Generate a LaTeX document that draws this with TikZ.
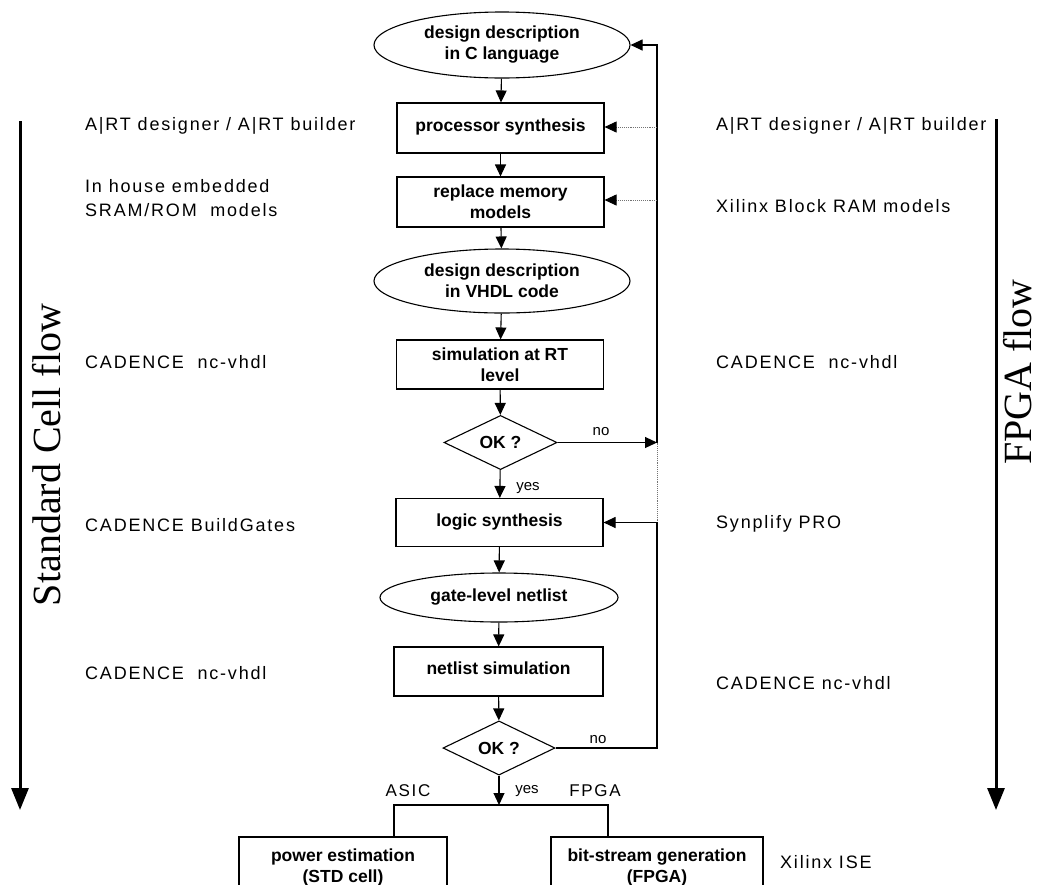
\documentclass[tikz,border=0pt]{standalone}
\usepackage{fontspec}
\setmainfont{Liberation Sans}
\newfontfamily\labfamily[LetterSpace=10]{Liberation Sans}
\newfontfamily\serfamily{Liberation Serif}
\usetikzlibrary{shapes.geometric,arrows.meta}
\newcommand{\boxfont}{\fontsize{17.5}{21}\selectfont\bfseries}
\newcommand{\labfont}{\labfamily\fontsize{18}{24}\selectfont}
\newcommand{\ynfont}{\fontsize{15}{18}\selectfont}
\newcommand{\flowfont}{\serfamily\fontsize{40}{42}\selectfont}
\begin{document}
\begin{tikzpicture}[x=1pt,y=-1pt,
  box/.style={draw, line width=1.1pt, minimum width=207pt, minimum height=50pt, inner sep=0pt, font=\boxfont, align=center},
  ell/.style={draw, ellipse, line width=1.1pt, inner sep=0pt, font=\boxfont, align=center},
  dia/.style={draw, diamond, line width=1.1pt, inner sep=0pt, minimum width=113pt, minimum height=53pt, font=\boxfont},
  lab/.style={anchor=west, inner sep=0pt, font=\labfont, align=left},
  yn/.style={inner sep=0pt, font=\ynfont},
  flow/.style={-{Triangle[length=12pt,width=11pt]}, line width=1.1pt},
  dotflow/.style={densely dotted, line width=0.9pt, draw=black!55, -{Triangle[length=12pt,width=11pt,color=black]}},
  side/.style={line width=3pt, -{Triangle[length=22pt,width=17pt]}},
  flowlab/.style={inner sep=0pt, font=\flowfont, rotate=90, anchor=base}
]
\useasboundingbox (0,0) rectangle (1038,884);
\clip (0,0) rectangle (1038,884);

% main flow
\node[ell, minimum width=256pt, minimum height=66pt] (cdesc) at (502,45) {design description\\in C language};
\node[box] (ps) at (500.5,128) {\raisebox{5pt}{processor synthesis}};
\node[box] (rm) at (500.5,202) {replace memory\\models};
\node[ell, minimum width=256pt, minimum height=64pt] (vhdl) at (502,281) {design description\\in VHDL code};
\node[box, minimum height=49pt] (sim) at (500,364.5) {simulation at RT\\level};
\node[dia] (ok1) at (500.5,442.5) {OK ?};
\node[box, minimum height=48pt] (ls) at (499.5,522.5) {\raisebox{5pt}{logic synthesis}};
\node[ell, minimum width=238pt, minimum height=49pt] (gl) at (499,597.5) {gate-level netlist};
\node[box, minimum width=209pt, minimum height=49pt] (ns) at (498.5,671.5) {\raisebox{6pt}{netlist simulation}};
\node[dia, minimum width=112pt, minimum height=54pt] (ok2) at (499,748) {OK ?};
\node[box, minimum width=208pt, minimum height=60pt] (pe) at (343,867) {power estimation\\(STD cell)};
\node[box, minimum width=212pt, minimum height=60pt] (bs) at (657,867) {bit-stream generation\\(FPGA)};

\draw[flow] (cdesc) -- (ps);
\draw[flow] (ps) -- (rm);
\draw[flow] (rm) -- (vhdl);
\draw[flow] (vhdl) -- (sim);
\draw[flow] (sim) -- (ok1);
\draw[flow] (ok1) -- (ls);
\draw[flow] (ls) -- (gl);
\draw[flow] (gl) -- (ns);
\draw[flow] (ns) -- (ok2);

% feedback
\coordinate (fb1) at (657,442.5);
\coordinate (fb2) at (657,522.5);
\coordinate (fb3) at (657,748);
\coordinate (dps) at (657,127);
\coordinate (drm) at (657,200);
\draw[flow] (ok1.east) -- (fb1);
\draw[flow] (fb1) |- (cdesc.east);
\draw[densely dotted, line width=0.9pt, black!55] (fb1) -- (fb2);
\draw[flow] (ok2.east) -- (fb3) |- (ls.east);
\draw[dotflow] (dps) -- (ps.east |- dps);
\draw[dotflow] (drm) -- (rm.east |- drm);
\node[yn] (no1) at (601,432) {no};
\node[yn] (no2) at (598,740) {no};

% branch
\coordinate (br) at (499,805);
\coordinate (bl) at (394,805);
\coordinate (brr) at (608,805);
\draw[flow] (ok2.south) -- (br);
\draw[line width=1.1pt] (pe.north -| bl) -- (bl) -- (brr) -- (bs.north -| brr);
\node[yn] (yes1) at (528,488) {yes};
\node[yn] (yes2) at (527,791) {yes};
\node[inner sep=0pt, font=\labfamily\fontsize{17}{19}\selectfont] (asic) at (408,791) {ASIC};
\node[inner sep=0pt, font=\labfamily\fontsize{17}{19}\selectfont] (fpga) at (595,791) {FPGA};

% side flows
\coordinate (lt) at (20,121);
\coordinate (lb) at (20,810);
\coordinate (rt) at (996,119);
\coordinate (rb) at (996,810);
\draw[side] (lt) -- (lb);
\draw[side] (rt) -- (rb);
\node[flowlab] (scf) at (60,455) {Standard Cell flow};
\node[flowlab] (ff) at (1031,372) {FPGA flow};

% left labels
\node[lab] (l1) at (85,126) {A|RT designer / A|RT builder};
\node[lab] (l2) at (85,198) {In house embedded\\SRAM/ROM\ \ models};
\node[lab] (l3) at (85,362) {CADENCE\ \ nc-vhdl};
\node[lab] (l4) at (85,525) {CADENCE BuildGates};
\node[lab] (l5) at (85,673) {CADENCE\ \ nc-vhdl};
% right labels
\node[lab] (r1) at (716,126) {A|RT designer / A|RT builder};
\node[lab] (r2) at (716,206) {Xilinx Block RAM models};
\node[lab] (r3) at (716,362) {CADENCE\ \ nc-vhdl};
\node[lab] (r4) at (716,524) {Synplify PRO};
\node[lab] (r5) at (716,683) {CADENCE nc-vhdl};
\node[lab] (r6) at (780,862) {Xilinx ISE};
\end{tikzpicture}
\end{document}
